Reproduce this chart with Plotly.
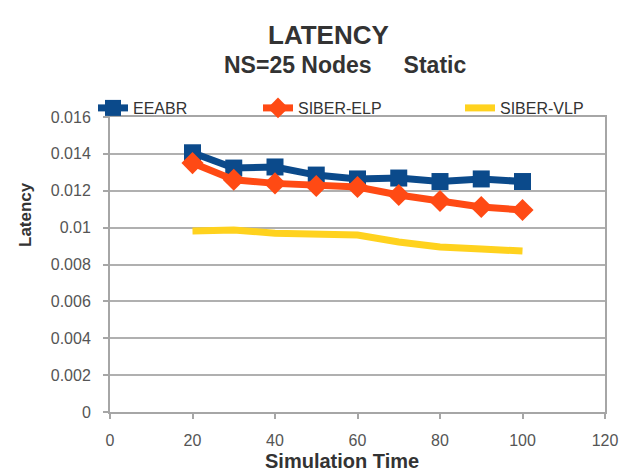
import plotly.graph_objects as go

# Simulation time (x) and average latency per protocol
sim_time = [20, 30, 40, 50, 60, 70, 80, 90, 100]
eeabr = [0.01406, 0.01323, 0.01329, 0.01285, 0.01264, 0.01269, 0.01250, 0.01264, 0.01250]
siber_elp = [0.0135, 0.0126, 0.0124, 0.01226, 0.0122, 0.01177, 0.01144, 0.01112, 0.01096]
siber_vlp = [0.00982, 0.00987, 0.0097, 0.00965, 0.0096, 0.00922, 0.00895, 0.00884, 0.00873]

x_ticks = [0, 20, 40, 60, 80, 100, 120]
y_ticks = [0, 0.002, 0.004, 0.006, 0.008, 0.01, 0.012, 0.014, 0.016]
y_tick_text = ["0", "0.002", "0.004", "0.006", "0.008", "0.01", "0.012", "0.014", "0.016"]

BLUE = "#0B4A8B"
RED = "#FF4A14"
YELLOW = "#FFD21E"
FONT = "Liberation Sans, Arial, sans-serif"
TEXT = "#333333"

# plot area in pixels: left 110, right 605, top 117, bottom 412
PL, PR, PT, PB = 110, 605, 117, 412
PW, PH = PR - PL, PB - PT

fig = go.Figure()
fig.add_trace(go.Scatter(
    x=sim_time, y=eeabr, name="EEABR", mode="lines+markers",
    line=dict(color=BLUE, width=7),
    marker=dict(symbol="square", size=17, color=BLUE),
    legend="legend",
))
fig.add_trace(go.Scatter(
    x=sim_time, y=siber_elp, name="SIBER-ELP", mode="lines+markers",
    line=dict(color=RED, width=7),
    marker=dict(symbol="diamond", size=17, color=RED),
    legend="legend2",
))
fig.add_trace(go.Scatter(
    x=sim_time, y=siber_vlp, name="SIBER-VLP", mode="lines",
    line=dict(color=YELLOW, width=7),
    legend="legend3",
))

legend_common = dict(
    orientation="h", yanchor="middle", xanchor="left",
    bgcolor="rgba(0,0,0,0)", font=dict(family=FONT, size=16, color=TEXT),
    xref="paper", yref="paper", y=1 + (PT - 108) / PH,
)


def px_x(px):
    return (px - PL) / PW


def px_y(py):
    return (PB - py) / PH


fig.update_layout(
    width=632, height=473,
    margin=dict(l=PL, r=632 - PR, t=PT, b=473 - PB, autoexpand=False),
    paper_bgcolor="white", plot_bgcolor="white",
    showlegend=True,
    legend=dict(x=px_x(93), **legend_common),
    legend2=dict(x=px_x(258), **legend_common),
    legend3=dict(x=px_x(460), **legend_common),
    xaxis=dict(
        range=[0, 120], tickvals=x_ticks, showgrid=False,
        showline=True, linecolor="#A6A6A6", linewidth=2, mirror=True,
        ticks="outside", ticklen=5, tickcolor="#A6A6A6", tickwidth=2,
        ticklabelstandoff=8,
        tickfont=dict(family=FONT, size=16, color="#555555"),
        zeroline=False,
    ),
    yaxis=dict(
        range=[0, 0.016], tickvals=y_ticks, ticktext=y_tick_text,
        showgrid=True, gridcolor="#B0B0B0", gridwidth=2,
        showline=True, linecolor="#A6A6A6", linewidth=2, mirror=True,
        ticks="outside", ticklen=5, tickcolor="#A6A6A6", tickwidth=2,
        ticklabelstandoff=9,
        tickfont=dict(family=FONT, size=16, color="#555555"),
        zeroline=False,
    ),
    annotations=[
        dict(text="<b>LATENCY</b>", xref="paper", yref="paper",
             x=px_x(328), y=px_y(35), xanchor="center", yanchor="middle",
             showarrow=False, font=dict(family=FONT, size=26, color=TEXT)),
        dict(text="<b>NS=25 Nodes&nbsp;&nbsp;&nbsp;&nbsp;&nbsp;Static</b>", xref="paper", yref="paper",
             x=px_x(345), y=px_y(65), xanchor="center", yanchor="middle",
             showarrow=False, font=dict(family=FONT, size=23, color=TEXT)),
        # axis titles
        dict(text="<b>Simulation Time</b>", xref="paper", yref="paper",
             x=px_x(342), y=px_y(461), xanchor="center", yanchor="middle",
             showarrow=False, font=dict(family=FONT, size=20, color=TEXT)),
        dict(text="<b>Latency</b>", xref="paper", yref="paper", textangle=-90,
             x=px_x(25), y=px_y(215), xanchor="center", yanchor="middle",
             showarrow=False, font=dict(family=FONT, size=17, color=TEXT)),
    ],
)

fig.write_html("out.html")
